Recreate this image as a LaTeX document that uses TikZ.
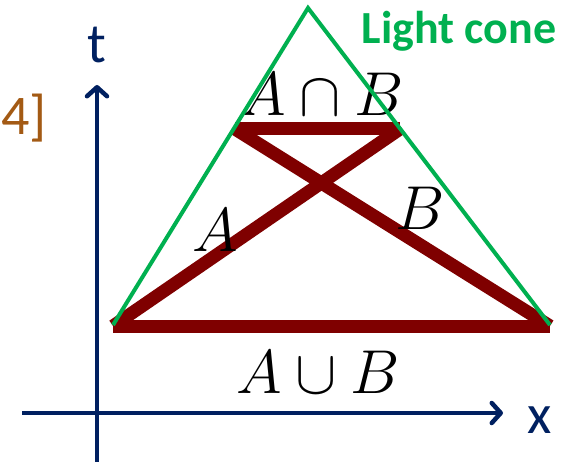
\RequirePackage{fix-cm}
\documentclass[tikz,border=0pt]{standalone}
\usepackage{fontspec}
\setsansfont{Carlito}
\usetikzlibrary{arrows.meta}
\definecolor{axisNavy}{HTML}{002060}
\definecolor{coneGreen}{HTML}{00B050}
\definecolor{setRed}{HTML}{7F0000}
\definecolor{refOrange}{HTML}{A35A14}

\begin{document}
\begin{tikzpicture}[x=1pt, y=-1pt,
  axis/.style={line width=4.5pt, draw=axisNavy, -{Straight Barb[length=9pt, width=20pt, line cap=round, line join=round]}},
  cone/.style={line width=4pt, draw=coneGreen},
  setline/.style={line width=13pt, draw=setRed},
  axislabel/.style={inner sep=0pt, text=axisNavy, font=\sffamily\fontsize{56}{56}\selectfont},
  setlabel/.style={inner sep=0pt, font=\fontsize{62}{62}\selectfont}
]
\useasboundingbox (0,0) rectangle (572,462);
% axes
\coordinate (tfoot) at (97,462);
\coordinate (ttip) at (97,85);
\coordinate (xfoot) at (22,413);
\coordinate (xtip) at (503,413);
\draw[axis] (xfoot) -- (xtip);
\draw[axis] (tfoot) -- (ttip);
\node[axislabel] (tlabel) at (97,45) {t};
\node[axislabel] (xlabel) at (540,420) {x};
\node[axislabel, text=refOrange, anchor=west] (ref) at (1,118) {4]};
% sets A and B
\coordinate (botL) at (113,326);
\coordinate (botR) at (550,326);
\coordinate (topL) at (235,129);
\coordinate (topR) at (400,129);
\draw[setline] (botL) -- (botR);
\draw[setline] (topL) -- (topR);
\draw[setline] (botL) -- (topR);
\draw[setline] (topL) -- (botR);
\node[setlabel] (capAB) at (322,94) {$A\cap B$};
\node[setlabel] (setA) at (215,230) {$A$};
\node[setlabel] (setB) at (420,208) {$B$};
\node[setlabel] (cupAB) at (318,372) {$A\cup B$};
% light cone
\coordinate (apex) at (308,8);
\coordinate (coneL) at (113,325);
\coordinate (coneR) at (550,325);
\draw[cone] (coneL) -- (apex) -- (coneR);
\node[inner sep=0pt, text=coneGreen, font=\sffamily\bfseries\fontsize{46}{46}\selectfont] (conelabel) at (459,31) {Light cone};
\end{tikzpicture}
\end{document}
